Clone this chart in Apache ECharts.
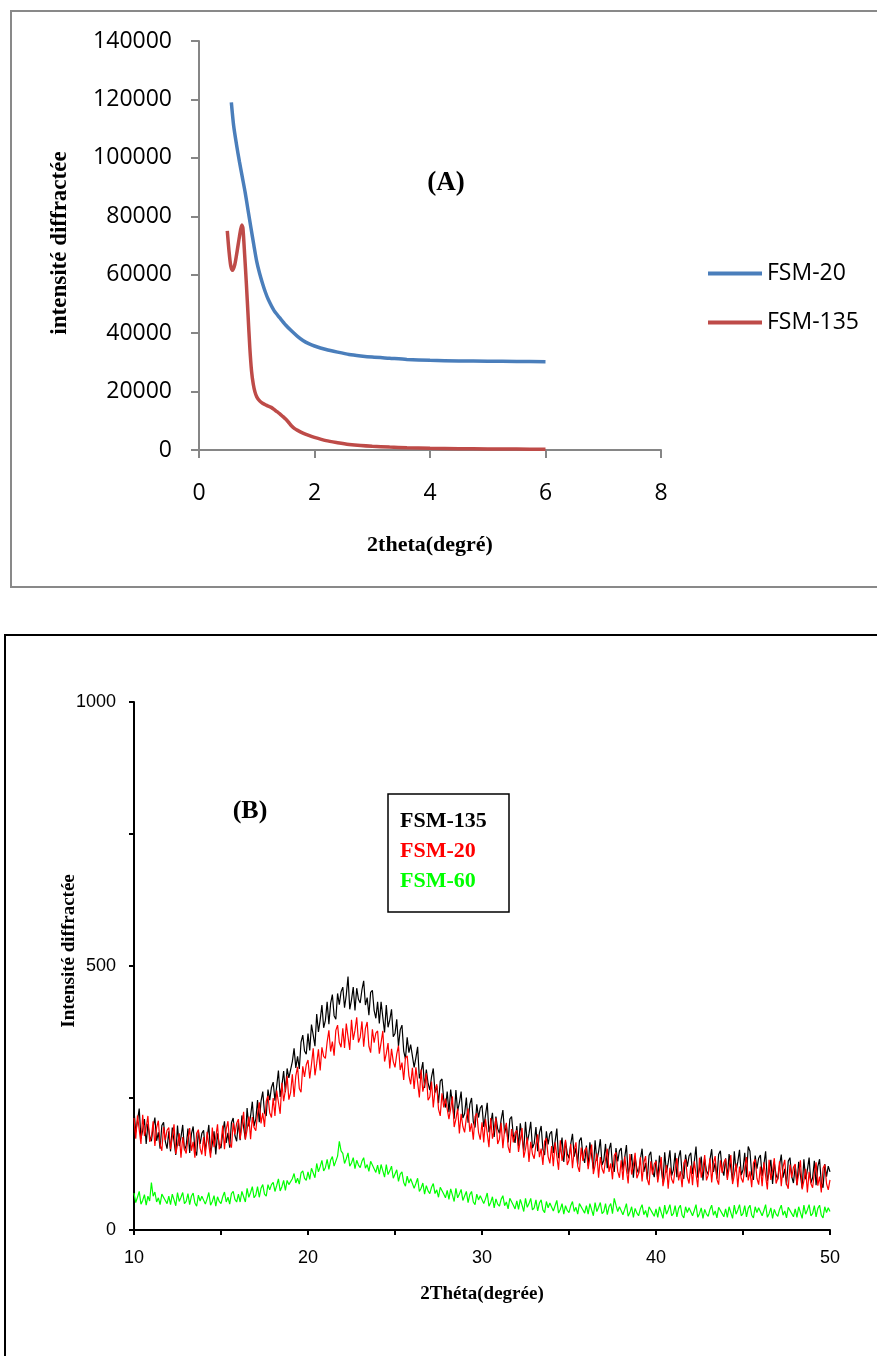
<!DOCTYPE html>
<html>
<head>
<meta charset="utf-8">
<script src="https://cdn.jsdelivr.net/npm/echarts@6/dist/echarts.min.js"></script>
<style>
html,body{margin:0;padding:0;background:#fff;}
#chart{width:877px;height:1356px;}
</style>
</head>
<body>
<div id="chart"></div>
<script>
// ---------- Chart (A) data ----------
const a_fsm20_x = [0.56,0.6,0.65,0.7,0.75,0.8,0.85,0.9,0.95,1.0,1.05,1.1,1.15,1.2,1.3,1.4,1.5,1.6,1.7,1.8,1.9,2.0,2.2,2.4,2.6,2.8,3.0,3.3,3.6,4.0,4.5,5.0,5.5,6.0];
const a_fsm20_y = [119000,111000,104500,98700,93400,88100,82000,76000,70100,64500,60400,57000,54000,51500,47700,45200,42800,40800,39000,37500,36400,35600,34400,33500,32700,32200,31800,31400,31000,30700,30500,30400,30300,30200];
const a_fsm135_x = [0.49,0.52,0.55,0.58,0.62,0.66,0.7,0.74,0.76,0.79,0.82,0.85,0.88,0.91,0.94,0.97,1.0,1.05,1.1,1.15,1.2,1.25,1.3,1.35,1.4,1.45,1.5,1.55,1.6,1.65,1.7,1.8,1.9,2.0,2.2,2.4,2.6,2.8,3.0,3.3,3.6,4.0,4.5,5.0,5.5,6.0];
const a_fsm135_y = [75000,68000,63000,61500,63500,68000,73000,77000,76000,67000,57000,46000,35000,27000,22500,19800,18200,16800,16000,15500,15000,14600,13900,13100,12400,11500,10600,9500,8300,7400,6800,5800,5000,4300,3200,2500,1900,1500,1250,1000,800,600,450,350,300,250];
const a_xTicks = {min:0, max:8, interval:2};
const a_yTicks = {min:0, max:140000, interval:20000};
const a_legend = ['FSM-20','FSM-135'];

// ---------- Chart (B) data : 2theta from 10 to 50, step 0.1 ----------
const b_start = 10, b_step = 0.1;
const b_fsm135 = [
227,185,207,230,173,189,210,163,201,178,
168,195,213,169,185,154,198,204,168,154,
187,149,194,168,142,198,159,176,199,151,
160,192,146,182,196,152,141,187,163,183,
189,150,174,199,145,163,187,143,183,162,
155,185,206,165,184,156,203,212,179,168,
204,170,217,195,172,231,196,216,243,197,
210,246,204,244,262,222,216,266,246,270,
280,245,272,302,252,274,301,261,306,288,
285,319,344,307,329,305,356,369,339,333,
372,340,389,369,348,409,375,398,426,383,
397,432,390,429,446,406,399,448,427,451,
460,421,445,480,418,436,460,416,458,437,
430,455,472,426,440,407,450,454,416,401,
432,391,432,403,374,426,384,398,418,366,
372,399,348,379,388,339,324,365,336,351,
352,308,326,347,287,300,318,269,304,278,
265,290,306,260,273,240,282,286,247,232,
262,223,266,238,211,265,225,241,262,212,
220,251,203,238,250,205,194,238,213,231,
236,195,217,241,185,201,222,176,215,192,
183,209,227,183,198,166,210,215,179,165,
197,159,202,176,150,205,165,182,205,155,
164,195,149,184,197,153,142,187,162,182,
187,146,168,192,136,153,175,129,168,145,
136,163,182,139,155,124,169,175,140,127,
160,122,166,141,115,170,131,148,172,123,
132,163,117,152,165,121,110,155,130,150,
155,114,137,161,106,122,144,99,138,116,
107,134,154,110,127,96,141,148,112,100,
133,96,141,116,91,147,109,127,151,103,
114,146,100,137,151,107,97,143,120,140,
146,106,129,158,99,116,139,94,134,112,
105,133,153,110,127,97,143,150,115,103,
136,99,144,118,93,149,111,129,152,104,
114,146,100,158,149,105,95,141,116,136,
142,102,124,149,93,110,133,87,127,104,
96,123,143,99,116,85,130,137,101,89,
122,85,129,104,79,134,96,114,137,89,
99,131,85,120,134,90,80,125,101,121,
110];
const b_fsm20 = [
212,173,217,190,163,218,178,194,216,167,
175,206,159,194,207,162,150,195,170,189,
194,153,176,200,144,161,183,137,176,154,
145,173,193,150,167,137,183,190,155,143,
176,140,186,161,137,194,157,176,200,153,
164,198,153,191,206,164,156,203,181,202,
210,172,197,224,171,190,215,172,214,194,
188,219,242,202,222,195,244,254,222,213,
250,216,264,242,220,279,244,265,292,247,
260,295,252,292,309,268,261,310,290,313,
322,287,314,344,293,315,342,302,346,329,
325,356,378,338,357,330,378,388,355,346,
382,345,391,366,341,398,360,378,403,355,
365,395,347,382,394,348,336,380,355,373,
377,334,355,377,319,334,354,306,343,319,
308,333,349,303,317,284,326,330,292,276,
307,267,308,280,251,304,262,277,297,246,
252,281,232,265,276,229,216,259,232,249,
252,210,230,253,195,210,230,183,220,196,
185,212,230,186,202,171,215,221,185,171,
204,166,210,183,157,212,173,190,212,163,
172,203,155,190,203,158,146,191,166,184,
189,148,170,193,137,153,175,129,167,144,
135,162,181,138,154,123,168,174,139,126,
159,121,166,140,114,170,131,148,171,123,
132,163,117,152,166,121,110,156,131,151,
156,115,138,162,106,123,145,99,138,116,
107,134,154,110,126,96,141,147,111,99,
132,95,139,114,88,144,105,123,146,98,
107,138,92,127,140,96,85,130,105,125,
130,90,113,138,83,100,123,78,118,96,
88,116,136,94,111,81,127,134,100,88,
122,85,130,106,81,137,99,117,142,94,
104,136,90,126,140,96,86,132,108,128,
135,95,117,142,87,104,126,81,120,98,
90,118,138,94,111,81,127,134,98,86,
120,83,128,102,77,133,95,113,136,88,
98,130,83,119,133,88,78,124,99,119,
125,85,107,132,77,93,116,71,110,88,
80,108,128,84,101,71,117,124,88,76,
95];
const b_fsm60 = [
70,52,62,73,49,56,67,47,64,55,
90,64,72,53,61,48,68,71,56,50,
64,48,68,57,46,71,54,62,71,50,
54,69,48,64,70,51,45,66,55,64,
67,49,59,71,47,54,65,45,63,54,
50,63,72,53,62,49,69,73,58,53,
68,53,73,63,53,79,62,71,82,61,
66,82,62,79,86,68,64,86,76,86,
90,73,84,97,74,82,94,75,94,86,
83,97,107,89,98,87,108,112,98,94,
110,96,117,108,99,126,110,120,132,112,
118,134,115,132,139,121,118,140,168,150,
145,126,135,146,121,127,137,116,132,123,
118,130,137,117,124,111,130,132,116,109,
123,106,124,112,100,124,105,112,121,98,
101,114,92,106,110,90,83,102,89,97,
98,79,88,98,73,79,89,68,84,74,
69,81,88,69,76,62,81,83,68,61,
75,58,78,66,54,79,61,68,77,56,
59,73,52,67,73,53,48,68,57,65,
68,50,59,70,45,52,63,42,59,49,
45,58,65,46,53,40,60,62,47,40,
55,39,58,47,35,60,43,50,60,38,
42,57,36,51,57,38,33,54,42,51,
54,36,46,56,32,39,50,30,46,37,
33,46,54,35,43,30,50,53,38,32,
46,30,50,38,27,52,35,43,52,31,
35,50,29,44,50,31,60,47,35,44,
47,29,39,50,26,33,44,24,41,32,
27,40,48,29,37,24,44,47,32,26,
40,24,44,33,22,47,30,38,48,27,
31,46,25,41,47,28,23,44,33,42,
45,27,37,48,24,31,42,22,39,30,
26,39,47,28,36,23,43,46,31,25,
40,24,44,33,22,47,30,38,48,27,
31,46,25,41,47,28,23,44,33,42,
45,27,37,48,24,31,42,22,39,30,
26,39,47,28,36,23,43,46,31,25,
40,24,44,33,22,47,30,38,48,27,
31,46,25,41,47,28,23,44,33,42,
35];
const b_xTicks = {min:10, max:50, interval:5};
const b_yTicks = {min:0, max:1000, interval:250};
const b_legend = [
  {name:'FSM-135', color:'#000000'},
  {name:'FSM-20', color:'#ff0000'},
  {name:'FSM-60', color:'#00ff00'}
];

// ---------- build ----------
function pairs(xs, ys){ return ys.map((v,i)=>[xs[i], v]); }
function pairsStep(ys){ return ys.map((v,i)=>[+(b_start + i*b_step).toFixed(2), v]); }

const serif = '"Liberation Serif", "Times New Roman", serif';
const sansA = '"Open Sans", sans-serif';
const sansB = '"Liberation Sans", Arial, sans-serif';

const chart = echarts.init(document.getElementById('chart'), null, {renderer:'canvas'});

const legendBGraphics = b_legend.map((it, i) => ({
  type:'text', left: 400, top: 810 + i*30,
  style:{text: it.name, fill: it.color, font: 'bold 22px ' + serif}
}));

chart.setOption({
  animation:false,
  backgroundColor:'#ffffff',
  grid:[
    {left:199, top:41, width:462, height:409, containLabel:false},
    {left:134, top:702, width:696, height:528, containLabel:false}
  ],
  xAxis:[
    {gridIndex:0, type:'value', min:a_xTicks.min, max:a_xTicks.max, interval:a_xTicks.interval,
     axisLine:{show:true, onZero:false, lineStyle:{color:'#868686', width:2}},
     axisTick:{show:true, inside:false, length:8, lineStyle:{color:'#868686', width:2}},
     axisLabel:{color:'#000', fontSize:23, fontFamily:sansA, margin:32, formatter: v => String(v)},
     splitLine:{show:false}},
    {gridIndex:1, type:'value', min:b_xTicks.min, max:b_xTicks.max, interval:b_xTicks.interval,
     axisLine:{show:true, onZero:false, lineStyle:{color:'#000', width:2}},
     axisTick:{show:true, inside:false, length:5, lineStyle:{color:'#000', width:2}},
     axisLabel:{color:'#000', fontSize:18, fontFamily:sansB, margin:19,
       formatter: v => (v % 10 === 0 ? String(v) : '')},
     splitLine:{show:false}}
  ],
  yAxis:[
    {gridIndex:0, type:'value', min:a_yTicks.min, max:a_yTicks.max, interval:a_yTicks.interval,
     axisLine:{show:true, onZero:false, lineStyle:{color:'#868686', width:2}},
     axisTick:{show:true, inside:false, length:8, lineStyle:{color:'#868686', width:2}},
     axisLabel:{color:'#000', fontSize:23, fontFamily:sansA, margin:27, formatter: v => String(v)},
     splitLine:{show:false}},
    {gridIndex:1, type:'value', min:b_yTicks.min, max:b_yTicks.max, interval:b_yTicks.interval,
     axisLine:{show:true, onZero:false, lineStyle:{color:'#000', width:2}},
     axisTick:{show:true, inside:false, length:5, lineStyle:{color:'#000', width:2}},
     axisLabel:{color:'#000', fontSize:18, fontFamily:sansB, margin:18,
       formatter: v => (v % 500 === 0 ? String(v) : '')},
     splitLine:{show:false}}
  ],
  legend:{
    data:a_legend, orient:'vertical', left:708, top:262, padding:0,
    icon:'rect', itemWidth:54, itemHeight:4, itemGap:26,
    textStyle:{color:'#000', fontSize:23, fontFamily:sansA, padding:[0,0,0,0]},
    selectedMode:false
  },
  series:[
    {name:'FSM-20', type:'line', xAxisIndex:0, yAxisIndex:0, data:pairs(a_fsm20_x, a_fsm20_y),
     showSymbol:false, smooth:0.25, lineStyle:{color:'#4a7ebb', width:3.5}, itemStyle:{color:'#4a7ebb'}},
    {name:'FSM-135', type:'line', xAxisIndex:0, yAxisIndex:0, data:pairs(a_fsm135_x, a_fsm135_y),
     showSymbol:false, smooth:0.25, lineStyle:{color:'#be4b48', width:3.5}, itemStyle:{color:'#be4b48'}},
    {name:'FSM-60', id:'b60', type:'line', xAxisIndex:1, yAxisIndex:1, data:pairsStep(b_fsm60),
     showSymbol:false, lineStyle:{color:'#00ff00', width:1.2}, itemStyle:{color:'#00ff00'}},
    {name:'FSM-135', id:'b135', type:'line', xAxisIndex:1, yAxisIndex:1, data:pairsStep(b_fsm135),
     showSymbol:false, lineStyle:{color:'#000000', width:1.2}, itemStyle:{color:'#000000'}},
    {name:'FSM-20', id:'b20', type:'line', xAxisIndex:1, yAxisIndex:1, data:pairsStep(b_fsm20),
     showSymbol:false, lineStyle:{color:'#ff0000', width:1.2}, itemStyle:{color:'#ff0000'}}
  ],
  graphic:[
    {type:'rect', shape:{x:11, y:11, width:900, height:576}, style:{fill:'none', stroke:'#898989', lineWidth:2}, silent:true},
    {type:'rect', shape:{x:5, y:635, width:900, height:800}, style:{fill:'none', stroke:'#000', lineWidth:2}, silent:true},
    {type:'text', x:60, y:243, rotation:Math.PI/2,
     style:{text:'intensité diffractée', font:'bold 23px ' + serif, fill:'#000', textAlign:'center', textVerticalAlign:'middle'}},
    {type:'text', x:430, y:545,
     style:{text:'2theta(degré)', font:'bold 22px ' + serif, fill:'#000', textAlign:'center', textVerticalAlign:'middle'}},
    {type:'text', x:446, y:183,
     style:{text:'(A)', font:'bold 27px ' + serif, fill:'#000', textAlign:'center', textVerticalAlign:'middle'}},
    {type:'text', x:69, y:951, rotation:Math.PI/2,
     style:{text:'Intensité diffractée', font:'bold 19px ' + serif, fill:'#000', textAlign:'center', textVerticalAlign:'middle'}},
    {type:'text', x:482, y:1294,
     style:{text:'2Théta(degrée)', font:'bold 19px ' + serif, fill:'#000', textAlign:'center', textVerticalAlign:'middle'}},
    {type:'text', x:250, y:811,
     style:{text:'(B)', font:'bold 26px ' + serif, fill:'#000', textAlign:'center', textVerticalAlign:'middle'}},
    {type:'rect', shape:{x:388, y:794, width:121, height:118}, style:{fill:'#fff', stroke:'#000', lineWidth:1.5}, silent:true},
    ...legendBGraphics
  ]
});
</script>
</body>
</html>
